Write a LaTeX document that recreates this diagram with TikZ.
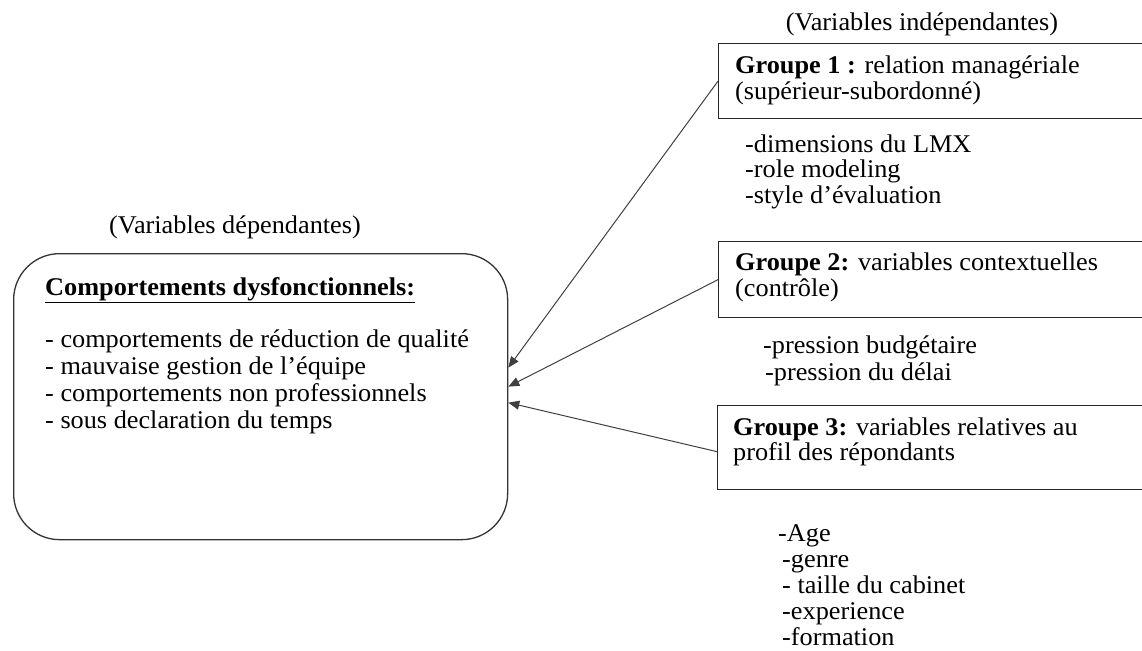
\documentclass[tikz,border=0pt]{standalone}
\usepackage{fontspec}
\setmainfont[FakeStretch=1.03]{Liberation Serif}
\usetikzlibrary{arrows.meta}
\newcommand\txtblock[2]{\fontsize{25.5}{#1}\selectfont\begin{tabular}[t]{@{}l@{}}#2\end{tabular}}
\begin{document}
\begin{tikzpicture}[x=1pt,y=-1pt,
  txt/.style={inner sep=0pt, anchor=base west, font=\fontsize{25.5}{26.5}\selectfont},
  ctxt/.style={inner sep=0pt, anchor=base, font=\fontsize{25.5}{26.5}\selectfont},
  gbox/.style={draw=black!85, line width=1.3pt, anchor=north west, inner sep=0pt, minimum width=470pt},
  dvbox/.style={draw=black!80, line width=1.3pt, rounded corners=46pt, anchor=north west, inner sep=0pt},
  arr/.style={draw=black!75, line width=1pt, -{Triangle[length=11pt,width=9pt]}}]
\path[use as bounding box] (0,0) rectangle (1142,650);
\clip (0,0) rectangle (1142,650);
% left box
\node[ctxt] (dvlabel) at (235,233) {(Variables dépendantes)};
\node[dvbox, minimum width=494pt, minimum height=286pt] (dv) at (13,253) {};
\node[txt] (dvhead) at (45,295) {\underline{\textbf{Comportements dysfonctionnels:}}};
\node[txt] (dvlist) at (45,347) {\txtblock{27}{- comportements de réduction de qualité\\- mauvaise gestion de l’équipe\\- comportements non professionnels\\- sous declaration du temps}};
% right side
\node[ctxt] (ivlabel) at (922,31) {(Variables indépendantes)};
\node[gbox, minimum height=75pt] (g1) at (718,43) {};
\node[txt] (g1t) at (735,74) {\txtblock{25}{\textbf{Groupe 1 :} relation managériale\\(supérieur-subordonné)}};
\node[txt] (l1) at (745,152) {\txtblock{25.5}{-dimensions du LMX\\-role modeling\\-style d’évaluation}};
\node[gbox, minimum height=76pt] (g2) at (718,241) {};
\node[txt] (g2t) at (735,270) {\txtblock{26}{\textbf{Groupe 2:} variables contextuelles\\(contrôle)}};
\node[txt] (l2) at (763,353) {\txtblock{27}{-pression budgétaire\\\hspace{2pt}-pression du délai}};
\node[gbox, minimum height=84pt] (g3) at (717,405) {};
\node[txt] (g3t) at (733,435) {\txtblock{25}{\textbf{Groupe 3:} variables relatives au\\profil des répondants}};
\node[txt] (l3) at (778,541) {\txtblock{26}{-Age\\\hspace{4pt}-genre\\\hspace{4pt}- taille du cabinet\\\hspace{4pt}-experience\\\hspace{4pt}-formation}};
% connectors
\coordinate (t1) at ([yshift=29pt]dv.east);
\coordinate (t2) at ([yshift=10pt]dv.east);
\coordinate (t3) at ([yshift=-6pt]dv.east);
\draw[arr] (g1.west) -- (t1);
\draw[arr] (g2.west) -- (t2);
\draw[arr] ([yshift=-4pt]g3.west) -- (t3);
\end{tikzpicture}
\end{document}
